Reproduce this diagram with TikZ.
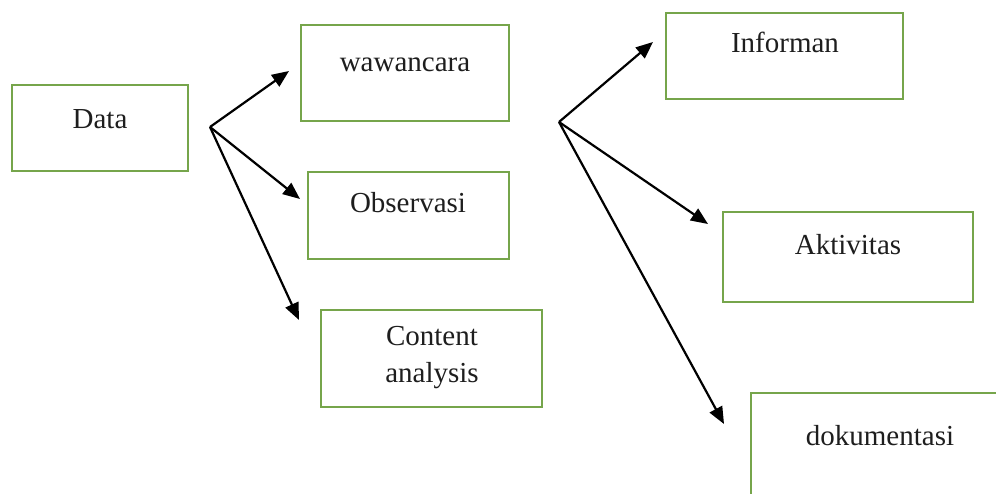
\documentclass[tikz,border=0pt]{standalone}
\usepackage{fontspec}
\setmainfont{Liberation Serif}
\usetikzlibrary{arrows.meta}
\definecolor{boxgreen}{RGB}{118,165,75}
\definecolor{inkgray}{RGB}{30,30,30}
\begin{document}
\begin{tikzpicture}[x=1pt,y=-1pt,
  box/.style={draw=boxgreen,line width=2pt,rectangle,inner sep=0pt},
  lbl/.style={font=\fontsize{29}{37}\selectfont,text=inkgray,inner sep=0pt,align=center},
  arr/.style={draw=black,line width=2.2pt,-{Triangle[length=17pt,width=14pt]}}]
\useasboundingbox (0,0) rectangle (996,494);
\fill[white] (0,0) rectangle (996,494);
% boxes
\node[box,minimum width=176pt,minimum height=86pt] (databox) at (100,128) {};
\node[box,minimum width=208pt,minimum height=96pt] (wbox) at (405,73) {};
\node[box,minimum width=201pt,minimum height=87pt] (obox) at (408.5,215.5) {};
\node[box,minimum width=221pt,minimum height=97pt] (cbox) at (431.5,358.5) {};
\node[box,minimum width=237pt,minimum height=86pt] (ibox) at (784.5,56) {};
\node[box,minimum width=250pt,minimum height=90pt] (abox) at (848,257) {};
\node[box,minimum width=280pt,minimum height=140pt] (dbox) at (891,463) {};
% labels
\node[lbl,anchor=base] (data) at (100,129) {Data};
\node[lbl,anchor=base] (waw) at (405,72) {wawancara};
\node[lbl,anchor=base] (obs) at (408,213) {Observasi};
\node[lbl] (con) at (432,358) {Content\\analysis};
\node[lbl,anchor=base] (inf) at (785,53) {Informan};
\node[lbl,anchor=base] (akt) at (848,255) {Aktivitas};
\node[lbl,anchor=base] (dok) at (880,445) {dokumentasi};
% connector coordinates
\coordinate (s1) at (210,127);
\coordinate (t1) at (289,71);
\coordinate (t2) at (300,199);
\coordinate (t3) at (299,320);
\coordinate (s2) at (559,122);
\coordinate (t4) at (653,42);
\coordinate (t5) at (708,224);
\coordinate (t6) at (724,424);
\draw[arr] (s1) -- (t1);
\draw[arr] (s1) -- (t2);
\draw[arr] (s1) -- (t3);
\draw[arr] (s2) -- (t4);
\draw[arr] (s2) -- (t5);
\draw[arr] (s2) -- (t6);
\end{tikzpicture}
\end{document}
